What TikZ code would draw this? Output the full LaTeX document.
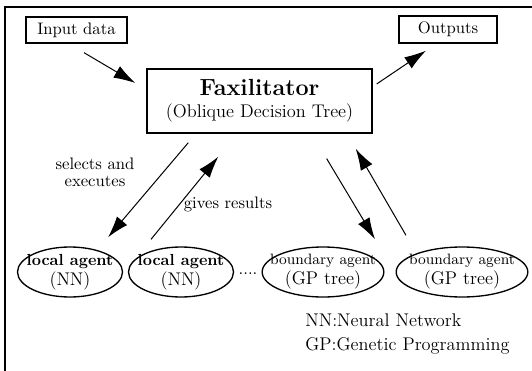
\documentclass[tikz,border=0pt]{standalone}
\usepackage{amsmath, amssymb}
\usetikzlibrary{arrows.meta, shapes.geometric, calc}

\begin{document}
\begin{tikzpicture}[x=0.6pt, y=-0.6pt,
    box/.style={draw, line width=0.8pt, inner sep=0pt},
    agent/.style={draw, ellipse, line width=0.8pt, inner xsep=-14pt, inner ysep=-3pt,
        minimum height=30pt, align=center, font=\fontsize{11}{12}\selectfont},
    flow/.style={-{Latex[length=13pt, width=8pt]}, line width=0.6pt}]
    \useasboundingbox (0,0) rectangle (532,371);

    % frame
    \coordinate (fb) at (5,371);
    \coordinate (fc) at (5,7);
    \coordinate (fr) at (532,7);
    \draw[line width=1pt] (fb) -- (fc) -- (fr);

    % boxes
    \node[box, minimum width=60.6pt, minimum height=15.6pt] (in) at (76.5,30) {Input data};
    \node[box, minimum width=58.8pt, minimum height=16.2pt] (out) at (448,29.5) {Outputs};
    \node[box, minimum width=135pt, minimum height=38.4pt, align=center] (fax) at (259.5,101)
        {{\fontsize{14}{16}\selectfont\bfseries Faxilitator}\\[1pt]
         {\fontsize{11}{13}\selectfont (Oblique Decision Tree)}};

    % agents
    \node[agent, minimum width=63pt] (la1) at (70,272)
        {{\fontsize{9.6}{10}\selectfont\bfseries local agent}\\(NN)};
    \node[agent, minimum width=63pt] (la2) at (181,272)
        {{\fontsize{9.6}{10}\selectfont\bfseries local agent}\\(NN)};
    \node (dots) at (248,274) {....};
    \node[agent, minimum width=73pt] (ba1) at (323,272)
        {{\fontsize{9}{10}\selectfont boundary agent}\\(GP tree)};
    \node[agent, minimum width=79pt] (ba2) at (462,272)
        {{\fontsize{9}{10}\selectfont boundary agent}\\(GP tree)};

    % arrows
    \draw[flow] ($(in.south)+(7.5,9)$) -- ($(fax.west)+(-11,-18)$);
    \draw[flow] ($(fax.east)+(4,-17)$) -- ($(out.south)+(-22,7)$);
    \draw[flow] ($(fax.south west)+(42,9)$) -- ($(la1.north)+(38,-9)$);
    \draw[flow] ($(la2.north)+(-30,-7)$) -- ($(fax.south west)+(72,23)$);
    \draw[flow] ($(fax.south east)+(-46,25)$) -- ($(ba1.north)+(52,-7)$);
    \draw[flow] ($(ba2.north)+(-56,-11)$) -- ($(fax.south east)+(-17,15)$);

    % labels
    \node[align=center, inner sep=0pt] (sel) at (95,172) {selects and\\[-2pt]executes};
    \node[inner sep=0pt] (res) at (228,204) {gives results};
    \node[anchor=west, align=left, inner sep=0pt, font=\fontsize{11}{14}\selectfont] (key) at (305,334)
        {NN:Neural Network\\GP:Genetic Programming};
\end{tikzpicture}
\end{document}
